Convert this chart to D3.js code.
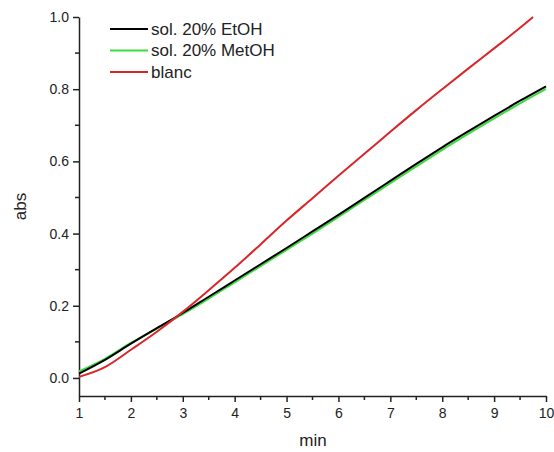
<!DOCTYPE html>
<html lang="en">
<head>
  <meta charset="UTF-8">
  <title>abs vs min</title>
  <script src="https://d3js.org/d3.v7.min.js"></script>
  <style>
    body { margin: 0; background: #fff; }
    text { font-family: "Liberation Sans", Arial, sans-serif; fill: #222; }
  </style>
</head>
<body>

<div id="chart"></div>

<script>
  // time points (min)
  const times = [1, 1.5, 2, 2.5, 3, 3.5, 4, 4.5, 5, 5.5, 6, 6.5, 7, 7.5, 8, 8.5, 9, 9.5, 10];

  // absorbance
  const etoh  = [0.012, 0.050, 0.095, 0.138, 0.180, 0.225, 0.270, 0.315, 0.360, 0.406, 0.452, 0.499, 0.546, 0.593, 0.639, 0.683, 0.726, 0.768, 0.808];
  const metoh = [0.018, 0.053, 0.097, 0.137, 0.177, 0.220, 0.265, 0.310, 0.355, 0.400, 0.446, 0.493, 0.540, 0.586, 0.632, 0.676, 0.719, 0.761, 0.801];
  const blanc = [0.003, 0.030, 0.078, 0.128, 0.183, 0.243, 0.305, 0.370, 0.436, 0.498, 0.560, 0.621, 0.682, 0.742, 0.800, 0.857, 0.913, 0.970];
  const blancTimes = [1, 1.5, 2, 2.5, 3, 3.5, 4, 4.5, 5, 5.5, 6, 6.5, 7, 7.5, 8, 8.5, 9, 9.5];
  const blancEnd = [9.75, 1.0];

  const names  = ["sol. 20% EtOH", "sol. 20% MetOH", "blanc"];
  const colors = ["#000000", "#3ddc3d", "#d8262a"];

  const xTicks = [1, 2, 3, 4, 5, 6, 7, 8, 9, 10];
  const yTicks = [0.0, 0.2, 0.4, 0.6, 0.8, 1.0];

  const width = 554, height = 452;
  const mLeft = 79, mRight = 546, mTop = 17, mBottom = 396;

  const x = d3.scaleLinear().domain([1, 10]).range([mLeft, mRight]);
  const y = d3.scaleLinear().domain([-0.05, 1.0]).range([mBottom, mTop]);

  const svg = d3.select("#chart")
    .append("svg")
    .attr("width", width)
    .attr("height", height);

  // x axis
  const xAxis = svg.append("g")
    .attr("transform", `translate(0,${mBottom})`)
    .call(d3.axisBottom(x).tickValues(xTicks).tickFormat(d3.format("d"))
      .tickSize(6).tickSizeOuter(0).tickPadding(6));
  xAxis.append("g")
    .selectAll("line")
    .data(d3.range(1.5, 10, 1))
    .enter()
    .append("line")
    .attr("x1", d => x(d)).attr("x2", d => x(d))
    .attr("y1", 0).attr("y2", 4)
    .attr("stroke", "#222").attr("stroke-width", 1.5);

  // y axis
  const yAxis = svg.append("g")
    .attr("transform", `translate(${mLeft},0)`)
    .call(d3.axisLeft(y).tickValues(yTicks).tickFormat(d3.format(".1f"))
      .tickSize(6).tickSizeOuter(0).tickPadding(4));
  yAxis.append("g")
    .selectAll("line")
    .data([0.1, 0.3, 0.5, 0.7, 0.9])
    .enter()
    .append("line")
    .attr("y1", d => y(d)).attr("y2", d => y(d))
    .attr("x1", 0).attr("x2", -4)
    .attr("stroke", "#222").attr("stroke-width", 1.5);

  svg.selectAll(".domain").attr("stroke", "#222").attr("stroke-width", 1.5);
  svg.selectAll(".tick line").attr("stroke", "#222").attr("stroke-width", 1.5);
  svg.selectAll(".tick text")
    .style("font-family", '"Liberation Sans", Arial, sans-serif')
    .style("font-size", "14px")
    .attr("fill", "#222");

  // axis titles
  svg.append("text")
    .attr("x", 313)
    .attr("y", 446)
    .attr("text-anchor", "middle")
    .style("font-size", "17px")
    .text("min");

  svg.append("text")
    .attr("transform", `translate(26,${(mTop + mBottom) / 2}) rotate(-90)`)
    .attr("text-anchor", "middle")
    .style("font-size", "17px")
    .text("abs");

  // curves
  const line = d3.line()
    .x(d => x(d[0]))
    .y(d => y(d[1]))
    .curve(d3.curveMonotoneX);

  const series = [
    times.map((t, i) => [t, etoh[i]]),
    times.map((t, i) => [t, metoh[i]]),
    blancTimes.map((t, i) => [t, blanc[i]]).concat([blancEnd])
  ];

  // draw green first, then black over it, red on top
  [1, 0, 2].forEach(i => {
    svg.append("path")
      .datum(series[i])
      .attr("fill", "none")
      .attr("stroke", colors[i])
      .attr("stroke-width", 2)
      .attr("d", line);
  });

  // legend
  const legend = svg.selectAll(".legend")
    .data(names)
    .enter()
    .append("g")
    .attr("class", "legend")
    .attr("transform", (d, i) => `translate(110, ${29 + i * 21.5})`);

  legend.append("line")
    .attr("x1", 0).attr("x2", 38)
    .attr("y1", 0).attr("y2", 0)
    .attr("stroke", (d, i) => colors[i])
    .attr("stroke-width", 2);

  legend.append("text")
    .attr("x", 41)
    .attr("y", 0)
    .attr("dy", "0.35em")
    .style("font-size", "17px")
    .text(d => d);
</script>

</body>
</html>
